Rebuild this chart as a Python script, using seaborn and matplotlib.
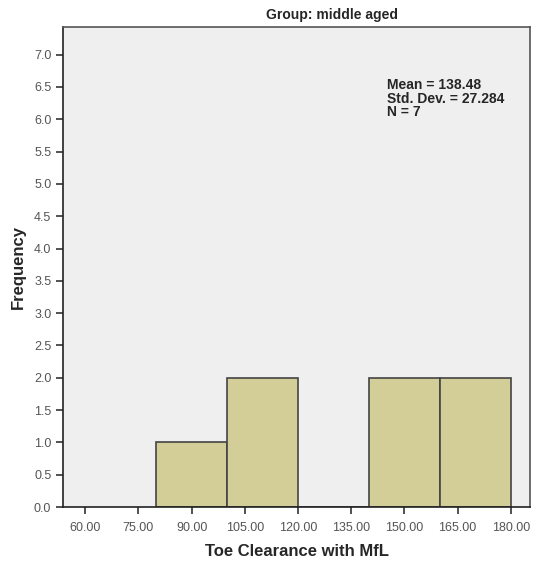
import numpy as np
import pandas as pd
import seaborn as sns
import matplotlib.pyplot as plt

# histogram bins (Toe Clearance with MfL) and counts
bin_edges = [80, 100, 120, 140, 160, 180]
counts = [1, 2, 0, 2, 2]
x_ticks = [60, 75, 90, 105, 120, 135, 150, 165, 180]
y_ticks = [0.0, 0.5, 1.0, 1.5, 2.0, 2.5, 3.0, 3.5, 4.0, 4.5, 5.0, 5.5, 6.0, 6.5, 7.0]
stats_text = "Mean = 138.48\nStd. Dev. = 27.284\nN = 7"

centers = [(a + b) / 2 for a, b in zip(bin_edges[:-1], bin_edges[1:])]
df = pd.DataFrame({"value": centers, "count": counts})

sns.set_style("white")
plt.rcParams["font.family"] = ["Liberation Sans", "DejaVu Sans"]

fig = plt.figure(figsize=(5.4, 5.71), dpi=100)
ax = fig.add_axes([0.117, 0.112, 0.865, 0.841])
ax.set_facecolor("#efefef")

sns.histplot(data=df, x="value", weights="count", bins=bin_edges, ax=ax,
             color="#d3ce97", alpha=1, edgecolor="#444444", linewidth=1.2)

ax.set_xlim(53.8, 185.5)
ax.set_ylim(0, 7.43)
ax.set_xticks(x_ticks)
ax.set_xticklabels([f"{t:.2f}" for t in x_ticks])
ax.set_yticks(y_ticks)
ax.set_yticklabels([f"{t:.1f}" for t in y_ticks])
ax.tick_params(axis="both", direction="out", length=5, width=1.2, color="#333333",
               labelsize=9, labelcolor="#555555", bottom=True, left=True)
ax.tick_params(axis="x", pad=6)

for s in ax.spines.values():
    s.set_color("#555555")
    s.set_linewidth(1.2)
ax.spines["left"].set_color("#222222")
ax.spines["bottom"].set_color("#222222")

ax.set_xlabel("Toe Clearance with MfL", fontsize=12, fontweight="bold", labelpad=7)
ax.set_ylabel("Frequency", fontsize=12, fontweight="bold", labelpad=6)
ax.set_title("Group: middle aged", fontsize=10, fontweight="bold", x=0.575, pad=6)

ax.text(0.693, 0.893, stats_text, transform=ax.transAxes, fontsize=10,
        fontweight="bold", va="top", ha="left", linespacing=0.95)

fig.savefig("out.png", dpi=100)
